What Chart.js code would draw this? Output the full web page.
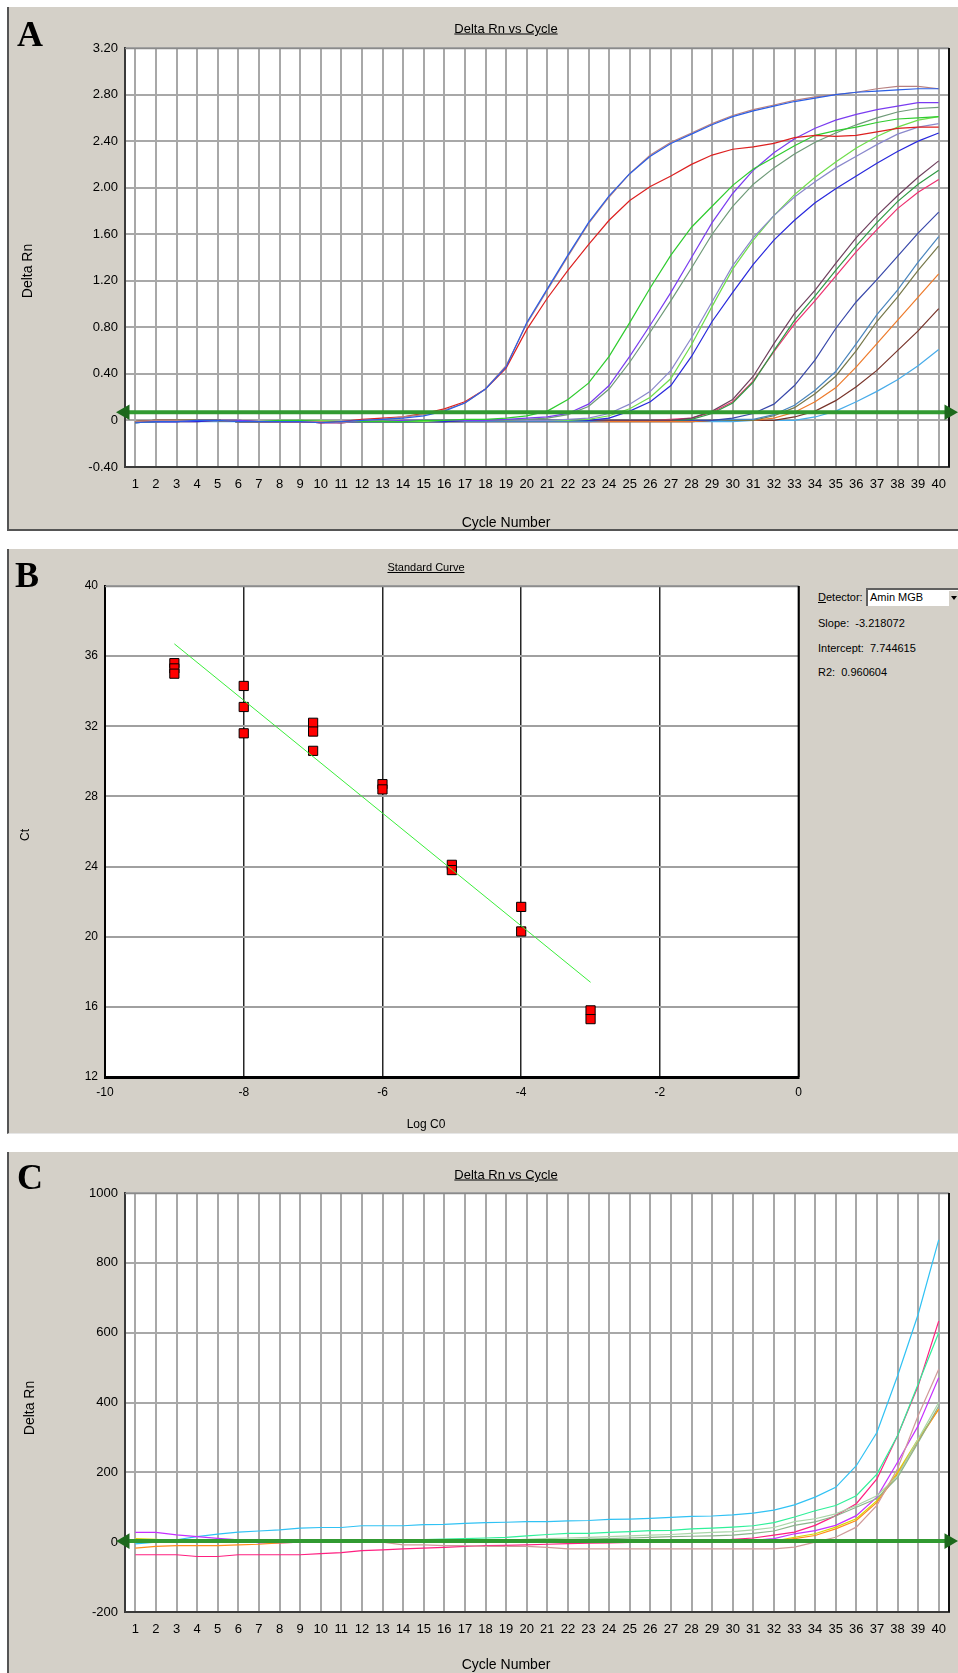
<!DOCTYPE html>
<html>
<head>
<meta charset="utf-8">
<script src="https://cdn.jsdelivr.net/npm/chart.js@4.4.0/dist/chart.umd.min.js"></script>
<style>
  html, body { margin: 0; padding: 0; background: #fff; }
  body { width: 958px; height: 1673px; position: relative; overflow: hidden; font-family: 'Liberation Sans', Arial, sans-serif; color: #000; }
  .panel { position: absolute; left: 7px; width: 951px; background: #d4d0c8; border-left: 2px solid #555; box-sizing: border-box; }
  .letter { position: absolute; font-family: 'Liberation Serif', 'Times New Roman', serif; font-weight: bold; font-size: 36px; line-height: 1; }
  .txt { position: absolute; font-size: 13px; white-space: nowrap; transform: translate(-50%, -50%); }
  .ttl { text-decoration: underline; }
  .ax { font-size: 14px; }
  .vert { transform: translate(-50%, -50%) rotate(-90deg); }
  .lt { position: absolute; font-size: 11px; white-space: nowrap; transform: translate(0, -50%); }
  canvas { position: absolute; }
</style>
</head>
<body>

<!-- panel backgrounds -->
<div class="panel" style="top:7px;height:524px;border-bottom:2px solid #555;"></div>
<div class="panel" style="top:549px;height:585px;border-bottom:1px solid #e6e6e6;"></div>
<div class="panel" style="top:1152px;height:521px;"></div>

<canvas id="chartA" width="948" height="520" style="left:10px;top:8px"></canvas>
<canvas id="chartB" width="800" height="580" style="left:10px;top:550px"></canvas>
<canvas id="chartC" width="948" height="520" style="left:10px;top:1153px"></canvas>

<!-- panel A text -->
<div class="letter" style="left:17px;top:16px">A</div>
<div class="txt ttl" style="left:506px;top:28px">Delta Rn vs Cycle</div>
<div class="txt ax" style="left:506px;top:522px">Cycle Number</div>
<div class="txt ax vert" style="left:27px;top:271px">Delta Rn</div>

<!-- panel B text -->
<div class="letter" style="left:15px;top:557px">B</div>
<div class="txt ttl" style="left:426px;top:567px;font-size:11px">Standard Curve</div>
<div class="txt" style="left:426px;top:1124px;font-size:12px">Log C0</div>
<div class="txt vert" style="left:25px;top:835px;font-size:12px">Ct</div>
<div class="lt" style="left:818px;top:597px"><u>D</u>etector:</div>
<div style="position:absolute;left:866px;top:588px;width:92px;height:18px;background:#fff;border-top:2px solid #606060;border-left:2px solid #606060;box-sizing:border-box;font-size:11px;line-height:15px;padding-left:2px;">Amin MGB</div>
<div style="position:absolute;left:948px;top:590px;width:10px;height:16px;background:#d4d0c8;border-top:1px solid #fff;border-left:1px solid #fff;box-sizing:border-box;">
  <div style="position:absolute;left:2px;top:5px;width:0;height:0;border-left:3.5px solid transparent;border-right:3.5px solid transparent;border-top:4px solid #000;"></div>
</div>
<div class="lt" style="left:818px;top:623px">Slope:&nbsp; -3.218072</div>
<div class="lt" style="left:818px;top:648px">Intercept:&nbsp; 7.744615</div>
<div class="lt" style="left:818px;top:672px">R2:&nbsp; 0.960604</div>

<!-- panel C text -->
<div class="letter" style="left:17px;top:1159px">C</div>
<div class="txt ttl" style="left:506px;top:1174px">Delta Rn vs Cycle</div>
<div class="txt ax" style="left:506px;top:1664px">Cycle Number</div>
<div class="txt ax vert" style="left:29px;top:1408px">Delta Rn</div>

<script>
// cycle numbers shared by panels A and C
const cycles = [1,2,3,4,5,6,7,8,9,10,11,12,13,14,15,16,17,18,19,20,21,22,23,24,25,26,27,28,29,30,31,32,33,34,35,36,37,38,39,40];

// Panel A - Delta Rn per cycle, one array per well
const aBlue1   = [-0.02,-0.01,-0.01,0,0,-0.01,-0.01,-0.01,-0.01,-0.02, -0.01,0,0.01,0.02,0.04,0.08,0.15,0.27,0.46,0.84, 1.13,1.42,1.70,1.93,2.12,2.27,2.38,2.46,2.54,2.61, 2.66,2.70,2.74,2.77,2.80,2.82,2.83,2.84,2.85,2.85];
const aRose1   = [-0.01,0,0,0,0,-0.01,-0.01,-0.01,-0.01,-0.01, -0.02,0,0.01,0.03,0.05,0.09,0.15,0.27,0.47,0.83, 1.12,1.41,1.69,1.92,2.12,2.28,2.39,2.47,2.55,2.62, 2.67,2.71,2.75,2.78,2.80,2.82,2.85,2.87,2.87,2.85];
const aRed1    = [-0.01,0,0,0,0,-0.01,-0.01,-0.01,-0.01,-0.02, -0.01,0.01,0.02,0.03,0.06,0.10,0.16,0.27,0.45,0.78, 1.05,1.29,1.51,1.72,1.89,2.01,2.10,2.20,2.28,2.33, 2.35,2.38,2.43,2.45,2.44,2.45,2.48,2.51,2.52,2.52];
const aGreen2  = [-0.01,0,0,0,0,-0.01,-0.01,0,0,-0.01, -0.01,-0.01,-0.01,-0.01,0,0,0.01,0.01,0.02,0.04, 0.08,0.18,0.32,0.55,0.84,1.14,1.42,1.66,1.84,2.02, 2.16,2.26,2.36,2.45,2.49,2.52,2.56,2.59,2.60,2.61];
const aPurple2 = [-0.01,-0.01,-0.01,0,0,0,-0.01,-0.01,-0.01,-0.02, -0.02,-0.01,-0.01,0,0,0,0,0,0.01,0.02, 0.03,0.06,0.14,0.30,0.55,0.82,1.10,1.40,1.70,1.95, 2.15,2.30,2.42,2.51,2.58,2.63,2.67,2.70,2.73,2.73];
const aGrey2   = [-0.01,-0.01,0,0,0,-0.01,-0.01,-0.01,0,-0.01, -0.01,-0.01,0,0,0,0,0,0,0,0.01, 0.02,0.05,0.12,0.27,0.50,0.76,1.03,1.31,1.60,1.84, 2.03,2.17,2.29,2.39,2.47,2.54,2.60,2.65,2.68,2.69];
const aViolet3 = [-0.01,0,0,0,0,-0.01,-0.01,-0.01,-0.01,-0.01, -0.01,-0.01,-0.01,0,0,0,0,0,0,0, 0,0.01,0.02,0.06,0.14,0.25,0.43,0.71,1.02,1.33, 1.57,1.76,1.92,2.05,2.17,2.27,2.37,2.46,2.52,2.55];
const aLime3   = [-0.02,-0.01,0,0,0,-0.01,-0.01,-0.01,0,0, -0.01,-0.01,-0.01,-0.01,-0.01,0,0,0,0,0, 0,0,0.01,0.04,0.10,0.20,0.36,0.65,0.98,1.30, 1.55,1.76,1.94,2.09,2.22,2.34,2.44,2.52,2.58,2.61];
const aBlue3   = [-0.02,-0.01,-0.01,-0.01,0,-0.01,-0.01,-0.01,-0.01,-0.01, -0.01,-0.01,-0.01,-0.01,-0.01,-0.01,0,0,0,0, 0,0,0,0.02,0.08,0.16,0.30,0.55,0.85,1.10, 1.34,1.55,1.72,1.87,1.99,2.10,2.21,2.31,2.40,2.47];
const aPlum4   = [-0.01,0,0,0,0,0,-0.01,-0.01,-0.01,-0.01, -0.02,-0.01,-0.01,-0.01,-0.01,-0.01,0,0,0,0, 0,0,0,0,0,0,0,0.02,0.08,0.18, 0.38,0.66,0.92,1.12,1.35,1.57,1.76,1.93,2.09,2.23];
const aGreen4  = [-0.01,0,0,0,0,-0.01,-0.01,-0.01,-0.01,-0.01, -0.01,-0.01,-0.01,-0.01,-0.01,0,0,0,0,0, 0,0,0,0,0,0,0,0.01,0.06,0.15, 0.33,0.60,0.86,1.07,1.29,1.50,1.70,1.88,2.03,2.15];
const aPink4   = [-0.01,0,0,0,0,-0.01,-0.01,-0.01,-0.01,-0.02, -0.02,-0.01,-0.01,0,0,0,0,0,0,0, 0,0,0,0,0,0,0.01,0.02,0.07,0.16, 0.34,0.59,0.83,1.03,1.24,1.45,1.64,1.82,1.96,2.07];
const aNavy5   = [-0.02,-0.01,-0.01,0,0,-0.01,-0.01,-0.01,-0.01,-0.01, -0.01,-0.01,-0.01,-0.01,-0.01,0,0,0,0,0, 0,0,0,0,0,0,0,0,0,0.02, 0.06,0.14,0.30,0.52,0.79,1.02,1.21,1.41,1.61,1.79];
const aSteel5  = [-0.01,-0.01,0,0,0,-0.01,-0.01,-0.01,-0.01,-0.01, -0.01,-0.01,-0.01,-0.01,-0.01,-0.01,-0.01,-0.01,-0.01,-0.01, -0.01,-0.01,-0.01,0,0,0,0,0,0,0.01, 0.01,0.05,0.13,0.26,0.42,0.66,0.91,1.12,1.36,1.58];
const aOlive5  = [-0.01,0,0,0,0,-0.01,-0.01,-0.01,-0.01,-0.01, -0.01,-0.01,-0.01,-0.01,-0.01,-0.01,-0.01,-0.01,0,0, 0,0,0,0,0,0,0,0,0,0, 0,0.04,0.11,0.23,0.38,0.60,0.85,1.06,1.29,1.50];
const aOrange5 = [-0.01,-0.01,-0.01,-0.01,0,-0.01,-0.01,-0.01,-0.01,-0.01, -0.01,-0.01,-0.01,-0.01,-0.01,-0.01,-0.01,-0.01,-0.01,-0.01, -0.01,-0.01,-0.01,-0.01,-0.01,-0.01,-0.01,-0.01,0,0, 0,0.02,0.07,0.16,0.28,0.46,0.66,0.86,1.06,1.26];
const aBrown5  = [-0.01,-0.01,0,0,0,-0.01,-0.01,-0.01,-0.01,-0.02, -0.02,-0.01,-0.01,-0.01,-0.01,-0.01,-0.01,-0.01,-0.01,-0.01, -0.01,-0.01,-0.01,-0.01,-0.01,-0.01,-0.01,-0.01,0,0, 0,0,0.03,0.08,0.17,0.29,0.43,0.60,0.77,0.96];
const aSky5    = [-0.02,-0.01,-0.01,-0.01,-0.01,-0.01,-0.01,-0.01,-0.01,-0.01, -0.01,-0.01,-0.01,-0.01,-0.01,-0.01,-0.01,-0.01,-0.01,-0.01, -0.01,-0.01,-0.01,-0.01,-0.01,-0.01,-0.01,-0.01,-0.01,-0.01, 0,0,0,0.03,0.08,0.16,0.25,0.35,0.47,0.61];
const thresholdA = 0.07;

// Panel B - standard curve points and fitted line
const stdLogC = [-9,-9,-9,-8,-8,-8,-7,-7,-7,-6,-6,-5,-5,-4,-4,-3,-3];
const stdCt   = [35.6,35.3,35.0,34.3,33.1,31.6,32.2,31.7,30.6,28.7,28.4,24.1,23.8,21.7,20.3,15.8,15.3];
const fitLogC = [-9, -3];
const fitCt   = [36.7, 17.4];

// Panel C - Delta Rn per cycle
const cCyan   = [-5,0,7,16,23,29,32,35,40,42, 42,47,47,47,50,51,54,56,57,59, 59,61,62,65,66,68,71,74,75,78, 83,92,107,129,157,219,314,476,652,866];
const cSpring = [0,0,0,0,0,0,0,0,0,0, 0,0,2,5,7,9,10,12,14,18, 22,25,25,28,30,33,34,38,40,43, 47,56,72,90,105,133,195,305,452,600];
const cPale   = [0,0,0,0,0,0,0,0,0,0, 0,0,0,0,2,3,4,5,6,8, 10,12,14,16,18,20,22,25,28,30, 35,42,59,67,81,105,133,190,295,400];
const cSage   = [0,0,0,0,0,0,0,0,0,0, 0,0,0,0,0,0,0,1,2,3, 5,7,9,10,12,14,16,17,18,20, 25,32,48,58,75,100,125,185,285,390];
const cPink   = [-36,-36,-36,-41,-41,-36,-36,-36,-36,-33, -30,-24,-22,-19,-17,-15,-12,-10,-9,-8, -6,-4,-3,-2,-1,0,0,1,2,8, 12,20,29,48,76,110,181,305,447,633];
const cRose   = [0,0,0,0,0,0,0,0,0,0, 0,0,0,-8,-8,-10,-10,-12,-12,-12, -15,-19,-19,-19,-19,-19,-19,-19,-19,-19, -19,-19,-14,0,14,43,105,210,362,495];
const cViolet = [28,28,21,16,11,7,-2,-2,0,0, 0,0,0,0,0,0,0,0,0,0, 0,0,0,0,0,0,0,0,0,2, 5,10,24,33,48,76,129,229,333,471];
const cYellow = [10,8,2,0,0,0,0,0,0,0, 0,0,0,0,0,0,0,0,0,0, 0,0,0,0,0,0,0,0,0,0, 0,3,14,24,43,67,119,200,295,381];
const cOrange = [-17,-12,-10,-10,-10,-8,-6,-2,0,0, 0,0,0,0,0,0,0,0,0,0, 0,0,0,0,0,0,0,0,0,0, 0,2,10,19,38,62,114,195,290,381];
const thresholdC = 3;

// line colours, same order as the series lists below
const seriesA = [aBlue1, aRose1, aRed1, aGreen2, aPurple2, aGrey2, aViolet3, aLime3, aBlue3, aPlum4, aGreen4, aPink4, aNavy5, aSteel5, aOlive5, aOrange5, aBrown5, aSky5];
const colorsA = ['#2a5ee6', '#b88080', '#dd2020', '#2ecc2e', '#7a3cf0', '#6e9a78', '#8a88cc', '#6ede4a', '#2828dd', '#70405e', '#2f9a44', '#ee3070', '#3848aa', '#4a86be', '#76784a', '#ee7a2a', '#78342a', '#48acea'];
const seriesC = [cRose, cSage, cPale, cOrange, cYellow, cViolet, cSpring, cPink, cCyan];
const colorsC = ['#d09a9a', '#8cb48c', '#a8d6a8', '#ff8c1a', '#d8d800', '#c630ff', '#30f09a', '#ff1f80', '#30c2f4'];

Chart.defaults.font.family = "'Liberation Sans', Arial, sans-serif";
Chart.defaults.color = '#000';

// white plot area plus the top / right frame lines
const plotFrame = {
    id: 'plotFrame',
    beforeDraw(chart) {
        const a = chart.chartArea;
        const ctx = chart.ctx;
        ctx.save();
        ctx.fillStyle = '#ffffff';
        ctx.fillRect(a.left, a.top, a.right - a.left, a.bottom - a.top);
        ctx.restore();
    },
    beforeDatasetsDraw(chart, args, opts) {
        const a = chart.chartArea;
        const ctx = chart.ctx;
        ctx.save();
        ctx.strokeStyle = opts.topColor;
        ctx.lineWidth = 1.5;
        ctx.beginPath();
        ctx.moveTo(a.left, a.top + 0.5);
        ctx.lineTo(a.right, a.top + 0.5);
        ctx.stroke();
        ctx.strokeStyle = opts.rightColor;
        ctx.lineWidth = opts.rightWidth;
        ctx.beginPath();
        ctx.moveTo(a.right, a.top);
        ctx.lineTo(a.right, a.bottom);
        ctx.stroke();
        ctx.restore();
    }
};
Chart.register(plotFrame);

function thresholdDataset(level) {
    return {
        data: [{ x: 0.5, y: level }, { x: 40.5, y: level }],
        borderColor: '#319a31',
        borderWidth: 4,
        pointRadius: 5,
        pointStyle: 'triangle',
        pointRotation: [-90, 90],
        pointBackgroundColor: '#1c691c',
        pointBorderColor: '#1c691c',
        clip: false
    };
}

function curveDatasets(list, colors) {
    return list.map((values, i) => ({
        data: values,
        borderColor: colors[i],
        borderWidth: 1.2,
        pointRadius: 0,
        tension: 0,
        fill: false
    }));
}

function drawCycleChart(canvasId, list, colors, level, yMin, yMax, yStep, yFormat) {
    const ctx = document.getElementById(canvasId).getContext('2d');

    return new Chart(ctx, {
        type: 'line',
        data: {
            labels: cycles,
            // threshold first so it is painted over the curves
            datasets: [thresholdDataset(level)].concat(curveDatasets(list, colors))
        },
        options: {
            responsive: false,
            animation: false,
            layout: { padding: { top: 40, right: 8, bottom: 21, left: 0 } },
            plugins: {
                legend: { display: false },
                tooltip: { enabled: false },
                plotFrame: { topColor: '#8a8a8a', rightColor: '#111', rightWidth: 2 }
            },
            scales: {
                x: {
                    type: 'linear',
                    min: 0.5,
                    max: 40.5,
                    afterBuildTicks: axis => { axis.ticks = cycles.map(v => ({ value: v })); },
                    afterFit: scale => { scale.height = 40; },
                    ticks: {
                        autoSkip: false,
                        maxRotation: 0,
                        padding: 10,
                        font: { size: 13 },
                        callback: v => String(v)
                    },
                    grid: { color: '#a8a8a8', lineWidth: 2, drawTicks: false },
                    border: { color: '#3a3a3a', width: 2 }
                },
                y: {
                    min: yMin,
                    max: yMax,
                    afterFit: scale => { scale.width = 115; },
                    ticks: {
                        stepSize: yStep,
                        padding: 7,
                        font: { size: 13 },
                        callback: yFormat
                    },
                    grid: { color: '#a8a8a8', lineWidth: 2, drawTicks: false },
                    border: { color: '#3a3a3a', width: 2 }
                }
            }
        }
    });
}

function drawStandardCurve() {
    const ctx = document.getElementById('chartB').getContext('2d');

    const points = stdLogC.map((x, i) => ({ x: x, y: stdCt[i] }));
    const fit = fitLogC.map((x, i) => ({ x: x, y: fitCt[i] }));

    return new Chart(ctx, {
        type: 'scatter',
        data: {
            datasets: [{
                data: fit,
                showLine: true,
                borderColor: '#3bee3b',
                borderWidth: 1,
                pointRadius: 0
            }, {
                data: points,
                pointStyle: 'rect',
                pointRadius: 6.5,
                backgroundColor: '#ff0000',
                borderColor: '#000',
                borderWidth: 1
            }]
        },
        options: {
            responsive: false,
            animation: false,
            layout: { padding: { top: 36, right: 11, bottom: 23, left: 0 } },
            plugins: {
                legend: { display: false },
                tooltip: { enabled: false },
                plotFrame: { topColor: '#8c8c8c', rightColor: '#000', rightWidth: 2 }
            },
            scales: {
                x: {
                    type: 'linear',
                    min: -10,
                    max: 0,
                    afterFit: scale => { scale.height = 30; },
                    ticks: { stepSize: 2, padding: 8, font: { size: 12 }, callback: v => String(v) },
                    grid: { color: '#262626', lineWidth: 1.5, drawTicks: false },
                    border: { color: '#000', width: 3 }
                },
                y: {
                    min: 12,
                    max: 40,
                    afterFit: scale => { scale.width = 95; },
                    ticks: { stepSize: 4, padding: 7, font: { size: 12 }, callback: v => String(v) },
                    grid: { color: '#a0a0a0', lineWidth: 2, drawTicks: false },
                    border: { color: '#000', width: 2 }
                }
            }
        }
    });
}

drawCycleChart('chartA', seriesA, colorsA, thresholdA, -0.4, 3.2, 0.4,
    v => Math.abs(v) < 1e-9 ? '0' : v.toFixed(2));
drawStandardCurve();
drawCycleChart('chartC', seriesC, colorsC, thresholdC, -200, 1000, 200,
    v => String(v));
</script>
</body>
</html>
